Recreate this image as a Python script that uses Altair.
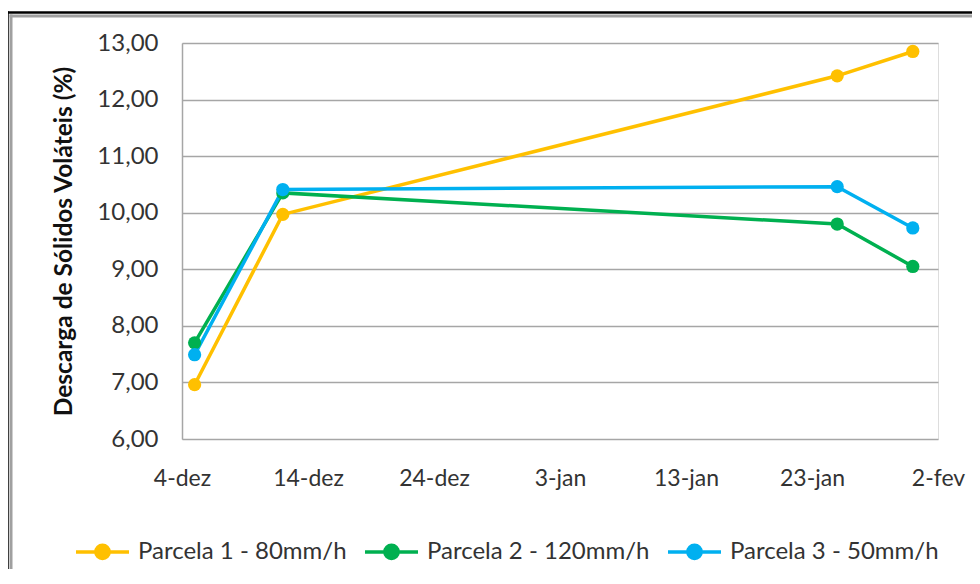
import altair as alt
import pandas as pd

dates = ["2012-12-05", "2012-12-12", "2013-01-25", "2013-01-31"]
series_names = ["Parcela 1 - 80mm/h", "Parcela 2 - 120mm/h", "Parcela 3 - 50mm/h"]
parcela1 = [6.96, 9.97, 12.42, 12.85]
parcela2 = [7.70, 10.35, 9.80, 9.05]
parcela3 = [7.49, 10.41, 10.46, 9.73]
colors = ["#FFC000", "#00B050", "#00B0F0"]
y_ticks = [6, 7, 8, 9, 10, 11, 12, 13]
x_ticks = [(2012, 12, 4), (2012, 12, 14), (2012, 12, 24), (2013, 1, 3),
           (2013, 1, 13), (2013, 1, 23), (2013, 2, 2)]

rows = []
for name, vals in zip(series_names, [parcela1, parcela2, parcela3]):
    for d, v in zip(dates, vals):
        rows.append({"date": d, "serie": name, "valor": v})
df = pd.DataFrame(rows)

FONT = "Lato"
TXT = "#333333"
GRID = "#A6A6A6"

tick_dt = [alt.DateTime(year=y, month=m, date=d, utc=True) for (y, m, d) in x_ticks]

month_expr = "['jan','fev','mar','abr','mai','jun','jul','ago','set','out','nov','dez'][utcmonth(datum.value)]"

x_enc = alt.X(
    "date:T",
    scale=alt.Scale(type="utc", domain=[tick_dt[0], tick_dt[-1]]),
    axis=alt.Axis(
        values=tick_dt, title=None, grid=False, ticks=False, domain=False,
        labelExpr="utcdate(datum.value) + '-' + " + month_expr,
        labelPadding=28, labelFontSize=23, labelFont=FONT, labelColor=TXT,
        labelFlush=False,
    ),
)
y_enc = alt.Y(
    "valor:Q",
    scale=alt.Scale(domain=[6, 13], nice=False, zero=False),
    axis=alt.Axis(
        values=y_ticks, title="Descarga de Sólidos Voláteis (%)",
        labelExpr="replace(format(datum.value, '.2f'), '.', ',')",
        grid=True, gridColor=GRID, gridWidth=1.5, ticks=False,
        domain=True, domainColor=GRID, domainWidth=1.5,
        labelPadding=24, labelFontSize=24, labelFont=FONT, labelColor=TXT,
        titleFont=FONT, titleFontSize=24.5, titleFontWeight="bold", titleColor="#111111",
        titlePadding=20,
    ),
)

sym = "M-1,0H1 M0.25,0 A0.25,0.25 0 1,1 -0.25,0 A0.25,0.25 0 1,1 0.25,0 Z"

color_enc = alt.Color(
    "serie:N",
    scale=alt.Scale(domain=series_names, range=colors),
    legend=alt.Legend(
        title=None, orient="none", direction="horizontal",
        legendX=-108, legendY=480,
        symbolType=sym, symbolSize=2809, symbolStrokeWidth=3.5,
        labelFont=FONT, labelFontSize=24, labelColor=TXT, labelOffset=7,
        columnPadding=11, labelLimit=400,
    ),
)

base = alt.Chart(df).encode(x=x_enc, y=y_enc, color=color_enc)
lines = base.mark_line(strokeWidth=3.5)
points = base.mark_point(filled=True, size=175, opacity=1)

frame_data = alt.Data(values=[{"k": 1}])
black_v = alt.Chart(frame_data).mark_rule(color="#000000", strokeWidth=2.5, clip=False).encode(
    x=alt.value(-174.5), y=alt.value(-31.75), y2=alt.value(526))
black_h = alt.Chart(frame_data).mark_rule(color="#000000", strokeWidth=2.5, clip=False).encode(
    x=alt.value(-175.75), x2=alt.value(790), y=alt.value(-30.5))
gray_v = alt.Chart(frame_data).mark_rule(color="#A0A0A0", strokeWidth=3, clip=False).encode(
    x=alt.value(-171), y=alt.value(-28.5), y2=alt.value(526))
gray_h = alt.Chart(frame_data).mark_rule(color="#A0A0A0", strokeWidth=3, clip=False).encode(
    x=alt.value(-172.5), x2=alt.value(790), y=alt.value(-27))

chart = alt.layer(black_v, black_h, gray_v, gray_h, lines, points).properties(
    width=756, height=396,
    autosize=alt.AutoSizeParams(type="none"),
    padding={"left": 174, "top": 35, "right": 34, "bottom": 130},
).configure_view(stroke=None).configure(background="white")

chart.save("out.html", embed_options={"renderer": "svg", "actions": False})
